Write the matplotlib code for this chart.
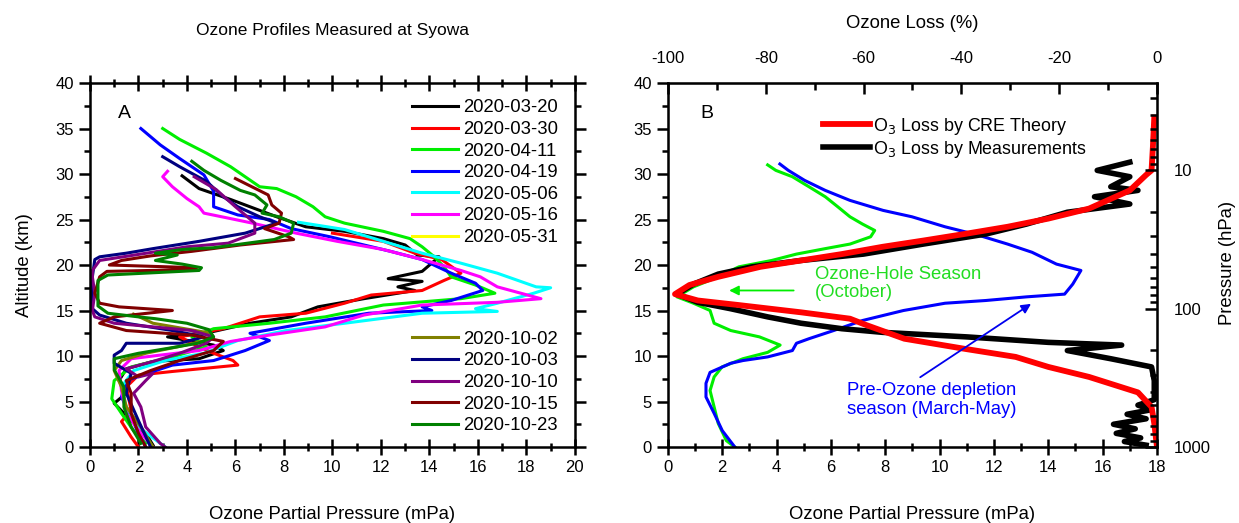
import numpy as np
import matplotlib
matplotlib.use("Agg")
import matplotlib.pyplot as plt
from matplotlib.ticker import MultipleLocator, FixedLocator, LogLocator, NullFormatter, FixedFormatter

plt.rcParams['font.family'] = ['Liberation Sans', 'DejaVu Sans']
plt.rcParams['axes.unicode_minus'] = False

# ---- panel A: ozone profiles (mPa, km) ----
o3_0320 = [3.8, 4.5, 5.8, 6.6, 7.7, 8.9, 10.5, 12.1, 13.0, 13.5, 14.4, 13.7, 12.3, 13.7, 12.7, 13.4, 11.3, 9.4, 8.3,
           6.6, 5.1, 3.9, 3.2, 5.1, 5.5, 4.5, 2.6, 1.5, 1.2, 1.5, 1.0, 1.7, 2.3, 2.6]
alt_0320 = [29.8, 28.4, 27.2, 26.4, 25.3, 24.2, 23.7, 22.9, 22.2, 21.1, 20.9, 19.3, 18.5, 18.2, 17.6, 17.2, 16.3, 15.4, 14.3,
            13.6, 12.7, 12.3, 12.1, 11.2, 10.6, 9.7, 9.4, 8.6, 7.3, 5.9, 4.8, 2.9, 1.5, 0.2]

o3_0330 = [10.0, 12.1, 13.4, 14.5, 15.3, 14.6, 13.7, 11.6, 10.5, 8.9, 7.0, 5.5, 3.7, 4.5, 5.1, 5.9, 6.1, 3.4, 2.0,
           1.5, 1.7, 1.3, 1.7, 2.0]
alt_0330 = [23.5, 22.6, 21.3, 20.6, 19.1, 18.3, 17.2, 16.7, 15.8, 14.7, 14.3, 13.0, 12.1, 11.0, 10.3, 9.5, 9.0, 8.3, 7.9,
            6.6, 4.0, 2.8, 1.1, 0.0]

o3_0411 = [3.0, 3.7, 4.8, 5.8, 7.0, 7.7, 8.5, 9.2, 9.7, 10.5, 12.1, 13.2, 13.7, 14.2, 14.6, 14.9, 15.9, 16.7, 15.3,
           12.1, 9.7, 7.4, 5.1, 4.2, 4.8, 3.4, 1.7, 1.0, 0.9, 1.3, 1.8, 2.3]
alt_0411 = [35.0, 33.8, 32.3, 30.8, 28.6, 28.4, 27.5, 26.4, 25.3, 24.6, 23.7, 22.9, 22.0, 20.9, 19.8, 18.7, 17.8, 16.9, 16.3,
            15.6, 14.3, 13.6, 13.0, 12.1, 11.0, 9.9, 8.8, 7.3, 5.3, 3.7, 1.8, 0.4]

o3_0419 = [2.1, 2.9, 3.7, 4.7, 5.1, 5.1, 6.1, 7.4, 8.3, 9.9, 11.3, 12.4, 13.7, 14.9, 15.9, 16.2, 14.9, 13.7, 14.1,
           11.5, 8.9, 6.6, 7.4, 6.4, 5.1, 3.4, 2.6, 1.5, 1.3, 1.7, 2.0, 2.3]
alt_0419 = [35.0, 33.2, 31.7, 29.9, 28.1, 26.4, 25.5, 25.0, 24.0, 23.1, 22.2, 21.5, 20.6, 19.1, 18.0, 17.2, 16.1, 15.4, 15.0,
            14.7, 13.6, 12.5, 11.7, 10.6, 9.5, 9.0, 8.3, 7.3, 5.5, 3.3, 1.5, 0.0]

o3_0506 = [8.6, 10.5, 12.1, 13.7, 15.3, 16.8, 18.4, 19.0, 18.3, 16.8, 15.9, 16.8, 13.7, 10.5, 8.1, 6.1, 4.7, 3.1,
           1.8, 1.3, 1.5, 2.0, 3.1]
alt_0506 = [24.7, 23.9, 22.6, 21.3, 20.2, 19.1, 17.6, 17.5, 16.9, 15.8, 15.2, 14.9, 14.7, 13.6, 12.8, 11.7, 10.3, 9.5,
            8.4, 6.6, 4.4, 2.2, 0.0]

o3_0516 = [3.2, 3.0, 3.4, 4.0, 4.5, 4.7, 5.8, 6.7, 8.5, 10.2, 12.1, 13.7, 15.3, 16.1, 16.8, 18.6, 16.8, 13.7, 11.3,
           9.7, 7.4, 5.8, 4.5, 2.9, 1.7, 1.2, 1.3, 1.5, 2.1, 2.6]
alt_0516 = [30.3, 29.7, 28.6, 27.3, 26.4, 25.7, 25.1, 24.6, 23.5, 22.6, 21.7, 20.6, 19.4, 18.7, 17.6, 16.3, 15.9, 15.6, 14.5,
            13.2, 12.3, 11.6, 10.6, 10.1, 9.7, 8.4, 6.2, 3.7, 1.5, 0.0]

o3_0531 = []
alt_0531 = []

o3_1002 = [1.8, 2.6, 5.0, 5.1, 3.6, 2.3, 1.3, 1.0, 1.3, 1.5, 2.1, 2.6]
alt_1002 = [14.6, 13.6, 12.5, 11.9, 11.0, 10.3, 9.5, 8.4, 6.6, 4.4, 2.2, 0.0]

o3_1003 = [3.0, 3.7, 4.8, 5.5, 6.1, 7.0, 7.7, 6.4, 4.5, 2.6, 1.5, 0.4, 0.2, 0.1, 0.1, 0.1, 0.4, 1.5, 3.4, 4.7,
           3.7, 1.5, 1.3, 1.0, 1.0, 1.7, 1.5, 2.0, 2.5]
alt_1003 = [31.9, 30.8, 29.2, 27.5, 26.4, 25.3, 24.6, 23.5, 22.6, 21.8, 21.3, 20.9, 20.6, 18.7, 16.1, 15.2, 14.5, 13.6, 12.8, 12.1,
            11.4, 11.4, 10.6, 10.1, 9.2, 8.1, 5.9, 2.9, 0.0]

o3_1010 = [4.3, 5.2, 6.0, 6.8, 6.8, 5.7, 4.0, 1.85, 0.4, 0.1, 0.1, 0.2, 0.1, 0.2, 1.0, 2.6, 4.2, 5.1, 4.8, 3.7,
           2.6, 1.5, 2.0, 2.6, 2.3, 1.8, 2.1, 2.3, 2.9, 3.1]
alt_1010 = [29.7, 28.3, 26.4, 24.6, 23.5, 22.4, 22.0, 21.1, 20.5, 19.4, 18.7, 16.9, 15.0, 14.3, 13.6, 13.2, 12.8, 12.1, 11.4, 10.3,
            9.4, 8.6, 7.7, 8.1, 7.3, 5.9, 4.4, 2.2, 0.4, 0.0]

o3_1015 = [6.0, 7.35, 7.5, 7.9, 7.8, 7.2, 8.2, 8.4, 6.2, 4.2, 2.5, 1.3, 0.8, 4.4, 4.3, 0.7, 0.4, 0.2, 0.4, 1.2,
           3.4, 1.0, 0.4, 1.5, 4.2, 5.5, 5.1, 3.7, 2.5, 1.5, 1.7, 1.7, 2.0, 2.3]
alt_1015 = [29.5, 27.7, 26.6, 25.7, 24.6, 24.0, 23.1, 22.8, 22.2, 21.5, 21.0, 20.5, 20.0, 19.7, 19.5, 19.3, 18.7, 16.9, 15.8, 15.4,
            15.0, 14.3, 13.6, 12.8, 12.3, 11.6, 10.6, 9.5, 8.4, 7.3, 5.9, 3.7, 1.5, 0.0]

o3_1023 = [4.2, 4.7, 5.4, 6.2, 6.8, 7.3, 7.1, 7.8, 8.4, 8.3, 7.6, 6.5, 5.1, 3.8, 2.7, 3.6, 2.7, 3.8, 4.6, 4.5,
           0.74, 0.33, 0.33, 0.33, 0.74, 2.0, 2.7, 4.0, 4.9, 5.1, 4.45, 3.35, 2.0, 1.0, 1.0, 1.4, 1.4, 1.7, 2.1]
alt_1023 = [31.4, 30.4, 29.3, 28.2, 27.7, 26.6, 25.7, 25.3, 24.6, 23.5, 22.8, 22.4, 21.9, 21.7, 21.3, 21.1, 20.5, 20.1, 19.7, 19.4,
            18.9, 18.3, 16.9, 15.5, 14.7, 14.3, 14.1, 13.6, 12.9, 12.1, 11.4, 10.9, 10.3, 9.7, 8.5, 6.6, 4.4, 2.2, 0.4]

dates_a = ['2020-03-20', '2020-03-30', '2020-04-11', '2020-04-19', '2020-05-06', '2020-05-16', '2020-05-31']
dates_b = ['2020-10-02', '2020-10-03', '2020-10-10', '2020-10-15', '2020-10-23']
profiles_a = [(o3_0320, alt_0320), (o3_0330, alt_0330), (o3_0411, alt_0411), (o3_0419, alt_0419),
              (o3_0506, alt_0506), (o3_0516, alt_0516), (o3_0531, alt_0531)]
profiles_b = [(o3_1002, alt_1002), (o3_1003, alt_1003), (o3_1010, alt_1010), (o3_1015, alt_1015), (o3_1023, alt_1023)]
colors_a = ['#000000', '#ff0000', '#00ee00', '#0000ff', '#00ffff', '#ff00ff', '#ffff00']
colors_b = ['#808000', '#000080', '#800080', '#800000', '#008000']

# ---- panel B: mean profiles and loss (mPa, km) ----
oct_o3 = [3.67, 3.97, 4.58, 5.19, 5.79, 6.25, 6.70, 7.16, 7.61, 7.46, 6.70, 5.79, 4.73, 3.82, 2.61, 1.85, 0.94, 0.33,
          0.94, 1.55, 1.70, 2.31, 3.37, 4.13, 3.67, 2.76, 1.99, 1.70, 1.55, 1.70, 1.85, 2.15, 2.46]
oct_alt = [31.0, 30.4, 29.7, 28.6, 27.5, 26.4, 25.3, 24.5, 23.8, 23.1, 22.3, 21.8, 21.2, 20.5, 19.8, 18.7, 17.6, 16.5,
           15.8, 15.0, 13.6, 12.8, 12.1, 11.2, 10.4, 9.7, 8.8, 7.7, 6.2, 4.4, 2.6, 0.7, 0.0]

pre_o3 = [4.12, 4.43, 5.03, 5.79, 6.70, 7.92, 8.98, 10.2, 11.4, 12.5, 13.4, 14.3, 15.2, 14.9, 14.6, 13.2, 11.7, 10.2,
          8.67, 7.16, 6.10, 5.19, 4.73, 4.58, 3.67, 2.76, 2.31, 1.55, 1.40, 1.40, 1.70, 2.00, 2.46]
pre_alt = [31.1, 30.4, 29.3, 28.2, 27.1, 26.0, 25.3, 24.2, 23.3, 22.3, 21.4, 20.1, 19.4, 17.9, 16.8, 16.5, 16.1, 15.8,
           15.0, 13.9, 12.8, 11.9, 11.4, 10.6, 9.9, 9.5, 9.2, 8.2, 7.0, 5.5, 3.7, 1.8, 0.0]

meas_o3 = [17.0, 15.8, 17.0, 16.3, 17.3, 15.7, 17.0, 14.7, 13.2, 11.7, 9.4, 7.2, 4.9, 3.1, 1.85, 0.94, 0.33, 1.1,
           2.3, 3.67, 4.9, 6.4, 7.9, 11.0, 14.0, 16.7, 14.7, 16.3, 17.8, 17.9, 17.9, 17.3, 17.8, 16.9, 17.6, 16.4,
           17.2, 16.5, 17.4, 16.8, 17.6]
meas_alt = [31.3, 30.4, 29.7, 28.6, 28.2, 27.5, 26.7, 25.8, 24.5, 23.4, 22.3, 21.2, 20.5, 19.8, 19.0, 17.9, 16.8, 15.9,
            15.2, 14.3, 13.6, 13.0, 12.6, 12.1, 11.5, 11.2, 10.6, 9.7, 8.8, 7.3, 5.2, 4.6, 4.1, 3.6, 3.1, 2.5,
            2.0, 1.5, 1.0, 0.6, 0.2]

cre_o3 = [17.9, 17.85, 17.8, 17.6, 17.0, 15.5, 14.0, 12.5, 10.9, 9.43, 7.9, 6.4, 4.9, 3.4, 1.85, 0.79, 0.26, 1.1,
          2.6, 4.9, 6.7, 7.3, 8.7, 10.9, 12.8, 14.0, 15.5, 17.3, 17.8, 17.9, 18.0]
cre_alt = [36.2, 33.0, 30.4, 29.9, 28.2, 26.2, 25.1, 24.2, 23.4, 22.7, 22.0, 21.2, 20.5, 19.8, 18.7, 17.8, 16.8, 16.1,
           15.6, 14.8, 14.1, 13.4, 11.9, 10.8, 9.9, 8.8, 7.7, 6.0, 4.4, 2.6, 0.0]

loss_ticks = [-100, -80, -60, -40, -20, 0]
loss_minor = [-90, -70, -50, -30, -10]
p_ticks = [10, 100, 1000]

fig = plt.figure(figsize=(12.39, 5.23), dpi=100)
ax1 = fig.add_axes([0.0726, 0.1453, 0.3914, 0.696])
ax2 = fig.add_axes([0.5391, 0.1453, 0.3947, 0.696])

fs = 13.3
lab = 13.3

h_a = []
for (x, y), c, d in zip(profiles_a, colors_a, dates_a):
    h_a += ax1.plot(x, y, color=c, lw=2.2, label=d)
h_b = []
for (x, y), c, d in zip(profiles_b, colors_b, dates_b):
    h_b += ax1.plot(x, y, color=c, lw=2.2, label=d)

ax1.set_xlim(0, 20)
ax1.set_ylim(0, 40)
ax1.xaxis.set_major_locator(MultipleLocator(2))
ax1.xaxis.set_minor_locator(MultipleLocator(1))
ax1.yaxis.set_major_locator(MultipleLocator(5))
ax1.yaxis.set_minor_locator(MultipleLocator(2.5))
ax1.tick_params(axis='x', which='both', direction='inout', top=True, bottom=True, width=1.8, labelsize=12)
ax1.tick_params(axis='y', which='both', direction='out', left=True, right=True, width=1.8, labelsize=12)
ax1.tick_params(which='major', length=12)
ax1.tick_params(which='minor', length=6)
ax1.tick_params(axis='y', which='major', length=8)
ax1.tick_params(axis='y', which='minor', length=4)
for s in ax1.spines.values():
    s.set_linewidth(1.8)
ax1.set_xlabel('Ozone Partial Pressure (mPa)', fontsize=lab, labelpad=22)
ax1.set_ylabel('Altitude (km)', fontsize=lab, labelpad=16)
ax1.text(1.15, 36.7, 'A', fontsize=14, va='center')

leg1 = ax1.legend(handles=h_a, loc='upper right', bbox_to_anchor=(0.965, 0.955), frameon=False, fontsize=fs,
                  handlelength=2.5, handletextpad=0.25, labelspacing=0.25, borderpad=0, borderaxespad=0)
ax1.add_artist(leg1)
ax1.legend(handles=h_b, loc='lower right', bbox_to_anchor=(0.965, 0.035), frameon=False, fontsize=fs,
           handlelength=2.5, handletextpad=0.25, labelspacing=0.25, borderpad=0, borderaxespad=0)

fig.text(332 / 1239, 1 - 30 / 523, 'Ozone Profiles Measured at Syowa', ha='center', va='center', fontsize=12.5)

# panel B
ax2.plot(oct_o3, oct_alt, color='#00ee00', lw=2.2)
ax2.plot(pre_o3, pre_alt, color='#0000ff', lw=2.2)
hm, = ax2.plot(meas_o3, meas_alt, color='black', lw=4)
hc, = ax2.plot(cre_o3, cre_alt, color='#ff0000', lw=4.2)

ax2.set_xlim(0, 18)
ax2.set_ylim(0, 40)
ax2.xaxis.set_major_locator(MultipleLocator(2))
ax2.xaxis.set_minor_locator(MultipleLocator(1))
ax2.yaxis.set_major_locator(MultipleLocator(5))
ax2.yaxis.set_minor_locator(MultipleLocator(2.5))
ax2.tick_params(axis='x', which='both', direction='inout', top=False, bottom=True, width=1.8, labelsize=12)
ax2.tick_params(axis='y', which='both', direction='out', left=True, right=False, width=1.8, labelsize=12)
ax2.tick_params(axis='x', which='major', length=12)
ax2.tick_params(axis='x', which='minor', length=6)
ax2.tick_params(axis='y', which='major', length=8)
ax2.tick_params(axis='y', which='minor', length=4)
for s in ax2.spines.values():
    s.set_linewidth(1.8)
ax2.set_xlabel('Ozone Partial Pressure (mPa)', fontsize=lab, labelpad=22)
ax2.text(1.2, 36.7, 'B', fontsize=14, va='center')

top = ax2.secondary_xaxis('top', functions=(lambda v: v / 18 * 100 - 100, lambda l: (l + 100) * 18 / 100))
top.xaxis.set_major_locator(FixedLocator(loss_ticks))
top.xaxis.set_minor_locator(FixedLocator(loss_minor))
top.tick_params(which='both', direction='in', width=1.8, labelsize=12, pad=12)
top.tick_params(which='major', length=8)
top.tick_params(which='minor', length=5)
top.set_xlabel('Ozone Loss (%)', fontsize=lab, labelpad=17)

axp = ax2.twinx()
axp.set_yscale('log')
axp.set_ylim(1000, 1000 * 10 ** (-40 / 15.2))
axp.yaxis.set_major_locator(FixedLocator(p_ticks))
axp.yaxis.set_major_formatter(FixedFormatter([str(p) for p in p_ticks]))
axp.yaxis.set_minor_locator(LogLocator(base=10, subs=np.arange(2, 10)))
axp.yaxis.set_minor_formatter(NullFormatter())
axp.tick_params(which='both', direction='in', width=1.8, labelsize=12, pad=12)
axp.tick_params(which='major', length=9)
axp.tick_params(which='minor', length=5)
fig.text(1227 / 1239, 1 - 263 / 523, 'Pressure (hPa)', rotation=90, ha='center', va='center', fontsize=lab)

ax2.legend([hc, hm], ['O$_3$ Loss by CRE Theory', 'O$_3$ Loss by Measurements'], loc='upper left',
           bbox_to_anchor=(0.317, 0.91), frameon=False, fontsize=12.9, handlelength=2.6, handletextpad=0.2,
           labelspacing=0.1, borderpad=0, borderaxespad=0)

ax2.annotate('', xy=(2.15, 17.2), xytext=(4.73, 17.2),
             arrowprops=dict(arrowstyle='-|>', color='#00ee00', lw=1.3, mutation_scale=14))
ax2.text(5.4, 19.9, 'Ozone-Hole Season\n(October)', color='#22dd22', fontsize=fs, va='top', ha='left',
         linespacing=1.1)
ax2.annotate('', xy=(13.45, 15.9), xytext=(9.2, 7.5),
             arrowprops=dict(arrowstyle='-|>', color='#0000ee', lw=1.3, mutation_scale=14))
ax2.text(6.6, 7.1, 'Pre-Ozone depletion\nseason (March-May)', color='#0000ff', fontsize=fs, va='top', ha='left',
         linespacing=1.1)

fig.savefig('out.png', dpi=100)
